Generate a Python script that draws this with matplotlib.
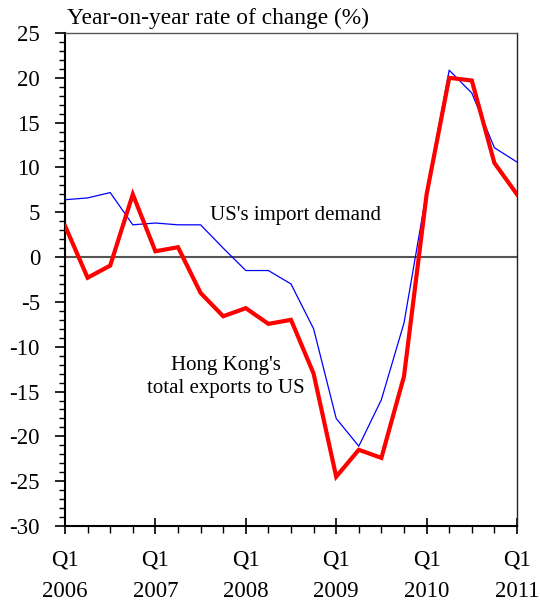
import matplotlib
matplotlib.use("Agg")
import matplotlib.pyplot as plt
from matplotlib.ticker import MultipleLocator

quarters = list(range(21))  # Q1 2006 .. Q1 2011
us_import = [6.4, 6.6, 7.2, 3.6, 3.8, 3.6, 3.6, 1.0,
             -1.5, -1.5, -3.0, -8.0, -18.0, -21.1, -15.9, -7.35,
             7.3, 20.85, 18.3, 12.2, 10.6]
hk_exports = [3.5, -2.3, -0.95, 7.0, 0.65, 1.1, -4.0, -6.6,
              -5.7, -7.45, -7.0, -13.0, -24.5, -21.5, -22.4, -13.3,
              7.0, 20.0, 19.7, 10.5, 7.0]
major_ticks = [0, 4, 8, 12, 16, 20]
tick_labels = ["Q1\n2006", "Q1\n2007", "Q1\n2008", "Q1\n2009", "Q1\n2010", "Q1\n2011"]
y_ticks = [-30, -25, -20, -15, -10, -5, 0, 5, 10, 15, 20, 25]

plt.rcParams['font.family'] = ['Liberation Serif', 'DejaVu Serif']
plt.rcParams['axes.unicode_minus'] = False
W, H = 540, 603
fig = plt.figure(figsize=(W / 100, H / 100), dpi=100)
L, R, T, B = 65, 517, 33, 526
ax = fig.add_axes([L / W, 1 - B / H, (R - L) / W, (B - T) / H])

ax.axhline(0, color='#555555', lw=1.5, zorder=1)
ax.plot(quarters, us_import, color='#0000ff', lw=0.9, zorder=2)
ax.plot(quarters, hk_exports, color='#ff0000', lw=3.0, zorder=3,
        solid_joinstyle='miter')

ax.set_xlim(0, 20)
ax.set_ylim(-30, 25)
ax.set_yticks(y_ticks)
ax.yaxis.set_minor_locator(MultipleLocator(1))
ax.set_xticks(major_ticks)
ax.set_xticklabels(tick_labels)
ax.xaxis.set_minor_locator(MultipleLocator(1))

ax.tick_params(axis='y', which='major', direction='out', length=7, width=1.2,
               labelsize=16.5, pad=11)
ax.tick_params(axis='y', which='minor', direction='out', length=4, width=1.0)
ax.tick_params(axis='x', which='major', direction='inout', length=12, width=1.2,
               labelsize=16.5, pad=11)
ax.tick_params(axis='x', which='minor', direction='out', length=5, width=1.0)
for lab in ax.get_xticklabels():
    lab.set_linespacing(1.65)

for s in ['left', 'bottom']:
    ax.spines[s].set_linewidth(1.5)
    ax.spines[s].set_color('black')
ax.spines['top'].set_linewidth(1.0)
ax.spines['top'].set_color('#555555')
ax.spines['right'].set_linewidth(1.0)
ax.spines['right'].set_color('#222222')

texts = [
    (67, 18, "Year-on-year rate of change (%)", 16.8, 'left', 1.2),
    (295, 216, "US's import demand", 15, 'center', 1.2),
    (226, 377, "Hong Kong's\ntotal exports to US", 15, 'center', 1.25),
]
for x, y, s, fs, ha, ls in texts:
    fig.text(x / W, 1 - y / H, s, fontsize=fs, ha=ha, va='center',
             linespacing=ls)

fig.savefig("out.png", dpi=100)
